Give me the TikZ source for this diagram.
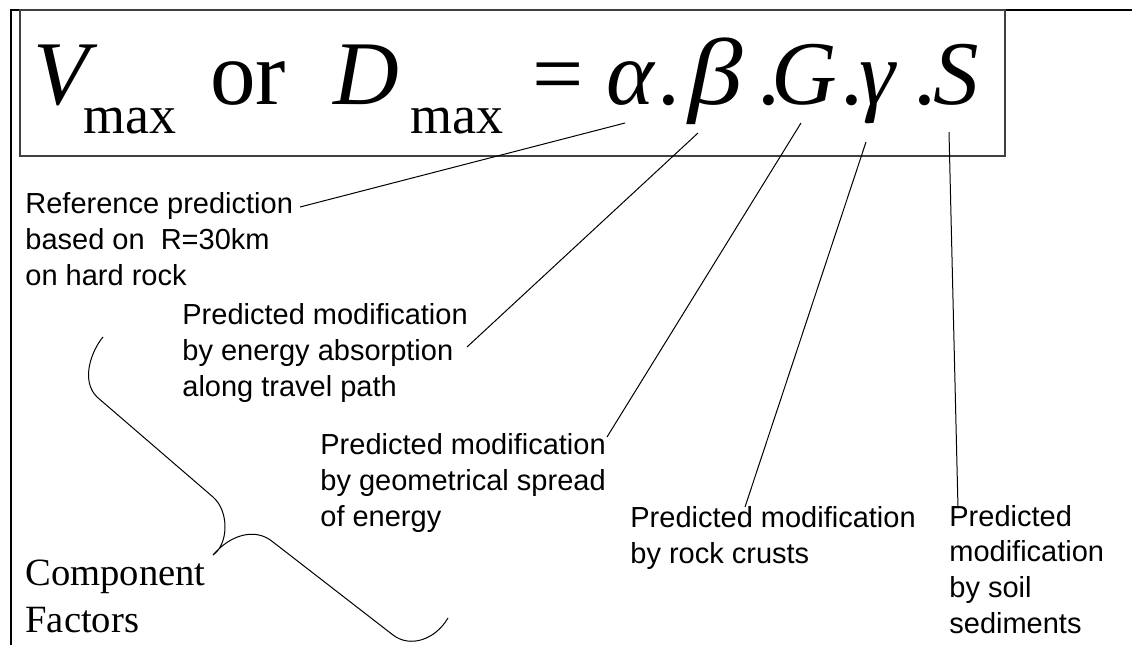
\documentclass[tikz,border=0pt]{standalone}
\usepackage{fontspec}
\setmainfont{Liberation Serif}
\newfontfamily\arialfont{Liberation Sans}
\usepackage{graphicx}
\usepackage{xcolor}
\definecolor{boxGray}{HTML}{404040}
\usetikzlibrary{calc}

\tikzset{
  eqtext/.style={inner sep=0pt, anchor=base west, font=\fontsize{45.5pt}{50pt}\selectfont},
  subtext/.style={inner sep=0pt, anchor=base west, font=\fontsize{27pt}{30pt}\selectfont},
  factlabel/.style={inner sep=0pt, anchor=base west, align=left,
    font=\arialfont\fontsize{14.5pt}{17.8pt}\selectfont},
  leader/.style={black, line width=0.5pt}
}

\begin{document}
\begin{tikzpicture}[x=0.5pt, y=-0.5pt]
    \useasboundingbox (0,0) rectangle (1132,645);

    % frame and formula box
    \draw[line width=1pt] (11,645) -- (11,10) -- (1132,10);
    \draw[boxGray, line width=0.6pt] (20,10) rectangle (1005,156);

    % the formula
    \node[eqtext] (V) at (33,104) {\itshape V};
    \node[subtext] (max1) at (83,133) {max};
    \node[eqtext] (or) at (210,104) {or};
    \node[eqtext] (D) at (333,104) {\itshape D};
    \node[subtext] (max2) at (410,133) {max};
    \node[eqtext] (equals) at (532,104) {=};
    \node[eqtext] (alpha) at (606,104) {\itshape α};
    \node[eqtext] (dot1) at (657,104) {.};
    \node[eqtext] (beta) at (688,104) {\scalebox{1.2}[1.04]{\itshape β}};
    \node[eqtext] (dot2) at (757,104) {.};
    \node[eqtext] (G) at (771,104) {\itshape G};
    \node[eqtext] (dot3) at (840,104) {.};
    \node[eqtext] (gamma) at (859,104) {\itshape γ};
    \node[eqtext] (dot4) at (913,104) {.};
    \node[eqtext] (S) at (933,104) {\itshape S};

    % labels (anchored at the base of the last line)
    \node[factlabel] (lblRef) at (25,285)
      {Reference prediction\\based on \ R=30km\\on hard rock};
    \node[factlabel] (lblBeta) at (182,396)
      {Predicted modification\\by energy absorption\\along travel path};
    \node[factlabel] (lblG) at (320,526)
      {Predicted modification\\by geometrical spread\\of energy};
    \node[factlabel] (lblGamma) at (630,563)
      {Predicted modification\\by rock crusts};
    \node[factlabel] (lblS) at (949,633)
      {Predicted\\modification\\by soil\\sediments};
    \node[inner sep=0pt, anchor=base west, align=left,
      font=\fontsize{19.3pt}{23.5pt}\selectfont] (lblComp) at (25,632)
      {Component\\Factors};

    % leader lines
    \coordinate (tipAlpha) at (625,123);
    \coordinate (tipBeta) at (698,133);
    \coordinate (tipG) at (801,123);
    \coordinate (tipGamma) at (866,142);
    \coordinate (tipS) at (949,132);
    \coordinate (endAlpha) at (300,207);
    \coordinate (endBeta) at (467,347);
    \coordinate (endG) at (607,437);
    \coordinate (endGamma) at (745,507);
    \coordinate (endS) at (958,508);
    \draw[leader] (endAlpha) -- (tipAlpha);
    \draw[leader] (endBeta) -- (tipBeta);
    \draw[leader] (endG) -- (tipG);
    \draw[leader] (endGamma) -- (tipGamma);
    \draw[leader] (endS) -- (tipS);

    % brace
    \draw[leader] (103,337) .. controls (92,350) and (80,380) .. (97,397)
      -- (213,497) .. controls (230,512) and (228,545) .. (213,555)
      .. controls (230,535) and (255,527) .. (273,542)
      -- (393,635) .. controls (410,648) and (435,640) .. (448,618);
  \end{tikzpicture}
\end{document}
